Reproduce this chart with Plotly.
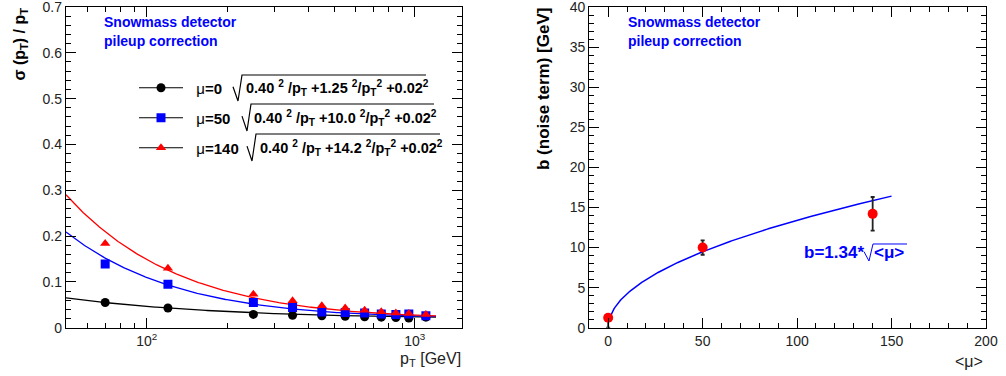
import numpy as np
import plotly.graph_objects as go

W, H = 1006, 376

# ---------------- data: left panel ----------------
pt = [70, 120, 250, 350, 450, 550, 650, 750, 850, 950, 1100]
res_mu0 = [0.055, 0.043, 0.029, 0.027, 0.026, 0.025, 0.024, 0.023, 0.022, 0.021, 0.023]
res_mu50 = [0.139, 0.095, 0.055, 0.044, 0.034, 0.033, 0.032, 0.030, 0.029, 0.030, 0.026]
res_mu140 = [0.184, 0.130, 0.073, 0.059, 0.048, 0.043, 0.038, 0.035, 0.032, 0.031, 0.029]
fit_a = 0.40
fit_b = [1.25, 10.0, 14.2]
fit_c = 0.02
fit_b_labels = ["1.25", "10.0", "14.2"]
mu_labels = ["0", "50", "140"]
series_colors = ["black", "#0000ff", "#ff0000"]
series_symbols = ["circle", "square", "triangle-up"]
fit_pt_range = [50, 1200]
y_ticks = [0, 0.1, 0.2, 0.3, 0.4, 0.5, 0.6, 0.7]
y_ticktext = ["0", "0.1", "0.2", "0.3", "0.4", "0.5", "0.6", "0.7"]

# ---------------- data: right panel ----------------
mu_vals = [0, 50, 140]
b_vals = [1.25, 10.0, 14.2]
b_err_up = [0.3, 0.9, 2.1]
b_err_down = [1.25, 0.9, 2.1]
b_coef = 1.34
mu_fit_range = [1, 150]


def px(x):
    return x / W


def py(y):
    return 1 - y / H


fig = go.Figure()

series = [res_mu0, res_mu50, res_mu140]
legends = ["legend", "legend2", "legend3"]
ptf = np.geomspace(fit_pt_range[0], fit_pt_range[1], 300)
for i in range(3):
    fy = np.sqrt(fit_a ** 2 / ptf + fit_b[i] ** 2 / ptf ** 2 + fit_c ** 2)
    fig.add_trace(go.Scatter(x=ptf, y=fy, mode="lines", line=dict(color=series_colors[i], width=1.3),
                             showlegend=False, hoverinfo="skip", xaxis="x", yaxis="y"))
for i in range(3):
    fig.add_trace(go.Scatter(x=pt, y=series[i], mode="markers",
                             marker=dict(color=series_colors[i], symbol=series_symbols[i], size=9),
                             showlegend=False, xaxis="x", yaxis="y"))
    # legend entry (ROOT style: black line with coloured marker)
    name = "&nbsp;&nbsp;μ<b>=%s</b>" % mu_labels[i]
    fig.add_trace(go.Scatter(x=[None], y=[None], mode="lines+markers", name=name,
                             line=dict(color="black", width=1.2),
                             marker=dict(color=series_colors[i], symbol=series_symbols[i], size=9),
                             legend=legends[i], xaxis="x", yaxis="y"))

# right panel
muf = np.linspace(mu_fit_range[0], mu_fit_range[1], 300)
fig.add_trace(go.Scatter(x=muf, y=b_coef * np.sqrt(muf), mode="lines", line=dict(color="#0000ff", width=1.5),
                         showlegend=False, hoverinfo="skip", xaxis="x2", yaxis="y2"))
fig.add_trace(go.Scatter(x=mu_vals, y=b_vals, mode="markers",
                         marker=dict(color="#ff0000", size=10),
                         error_y=dict(type="data", symmetric=False, array=b_err_up, arrayminus=b_err_down,
                                      color="#222", thickness=1.8, width=2),
                         showlegend=False, xaxis="x2", yaxis="y2"))

ax_common = dict(showline=True, linecolor="black", linewidth=1.3, mirror="ticks", ticks="inside",
                 tickcolor="black", tickwidth=1, ticklen=10, showgrid=False, zeroline=False,
                 ticklabeloverflow="allow", automargin=False,
                 tickfont=dict(family="Liberation Sans, Arial", size=14, color="#222"))

ydom = [py(327.7), py(7)]
fig.update_layout(
    width=W, height=H, margin=dict(l=0, r=0, t=0, b=0, autoexpand=False),
    paper_bgcolor="white", plot_bgcolor="white",
    font=dict(family="Liberation Sans, Arial", color="black"),
    xaxis=dict(type="log", domain=[px(66), px(462)], range=[np.log10(50), np.log10(1500)],
               tickvals=[100, 1000], ticktext=["10<sup>2</sup>", "10<sup>3</sup>"],
               minor=dict(tickvals=[60, 70, 80, 90, 200, 300, 400, 500, 600, 700, 800, 900],
                          ticks="inside", ticklen=5, tickcolor="black"),
               anchor="y", **ax_common),
    yaxis=dict(domain=ydom, range=[0, 0.7], tickvals=y_ticks, ticktext=y_ticktext,
               minor=dict(dtick=0.02, ticks="inside", ticklen=5, tickcolor="black"),
               anchor="x", **ax_common),
    xaxis2=dict(domain=[px(589.3), px(986)], range=[-10, 200], dtick=50,
                minor=dict(dtick=10, ticks="inside", ticklen=5, tickcolor="black"),
                anchor="y2", **ax_common),
    yaxis2=dict(domain=ydom, range=[0, 40], dtick=5,
                minor=dict(dtick=1, ticks="inside", ticklen=5, tickcolor="black"),
                anchor="x2", **ax_common),
)

leg_common = dict(xanchor="left", yanchor="middle", bgcolor="rgba(0,0,0,0)", borderwidth=0,
                  font=dict(family="Liberation Sans, Arial", size=15, color="black"), itemwidth=44)
fig.update_layout(
    legend=dict(x=px(134), y=py(88), **leg_common),
    legend2=dict(x=px(134), y=py(118), **leg_common),
    legend3=dict(x=px(134), y=py(148), **leg_common),
)

ann = []
# Snowmass labels
for xx in [102, 626]:
    ann.append(dict(x=px(xx), y=py(22), text="<b>Snowmass detector</b>", xanchor="left", yanchor="middle",
                    font=dict(size=14, color="#0000ff")))
    ann.append(dict(x=px(xx), y=py(41), text="<b>pileup correction</b>", xanchor="left", yanchor="middle",
                    font=dict(size=14, color="#0000ff")))
# legend formulas
form_x = [244, 252, 258]
form_y = [88, 118, 148]
for i in range(3):
    ann.append(dict(x=px(form_x[i]), y=py(form_y[i]),
                    text="<b>0.40 <sup>2</sup> /p<sub>T</sub> +%s <sup>2</sup>/p<sub>T</sub><sup>2</sup> +0.02<sup>2</sup></b>"
                         % fit_b_labels[i],
                    xanchor="left", yanchor="middle", font=dict(size=14.5, color="black")))
# axis titles
ann.append(dict(x=px(20), y=py(6), text="<b>σ (p<sub>T</sub>) / p<sub>T</sub></b>", textangle=-90,
                xanchor="center", yanchor="top", font=dict(size=16)))
ann.append(dict(x=px(543), y=py(6), text="<b>b (noise term) [GeV]</b>", textangle=-90,
                xanchor="center", yanchor="top", font=dict(size=17)))
ann.append(dict(x=px(463), y=py(359), text="p<sub>T</sub> [GeV]", xanchor="right", yanchor="middle",
                font=dict(size=16, color="#222")))
ann.append(dict(x=px(985), y=py(361), text="&lt;μ&gt;", xanchor="right", yanchor="middle",
                font=dict(size=16, color="#222")))
# fit formula on right panel
ann.append(dict(x=px(866), y=py(252), text="<b>b=1.34*</b>", xanchor="right", yanchor="middle",
                font=dict(size=17, color="#0000ff")))
ann.append(dict(x=px(872), y=py(252), text="<b>&lt;μ&gt;</b>", xanchor="left", yanchor="middle",
                font=dict(size=17, color="#0000ff")))
for a in ann:
    a.update(xref="paper", yref="paper", showarrow=False)
fig.update_layout(annotations=ann)

# radical signs
shapes = []


def radical(x0, ybot, ytop, x1, color="black", w=1.2):
    path = "M %f,%f L %f,%f L %f,%f L %f,%f" % (
        px(x0), py(ytop + 0.45 * (ybot - ytop)), px(x0 + 5), py(ybot), px(x0 + 9), py(ytop), px(x1), py(ytop))
    return dict(type="path", path=path, xref="paper", yref="paper", line=dict(color=color, width=w))


shapes.append(radical(233, 101, 75, 426))
shapes.append(radical(242, 131, 104, 434))
shapes.append(radical(247, 161, 134, 440))
shapes.append(radical(864, 261, 244, 907, color="#0000ff", w=1.0))
fig.update_layout(shapes=shapes)

fig.write_html("out.html")
